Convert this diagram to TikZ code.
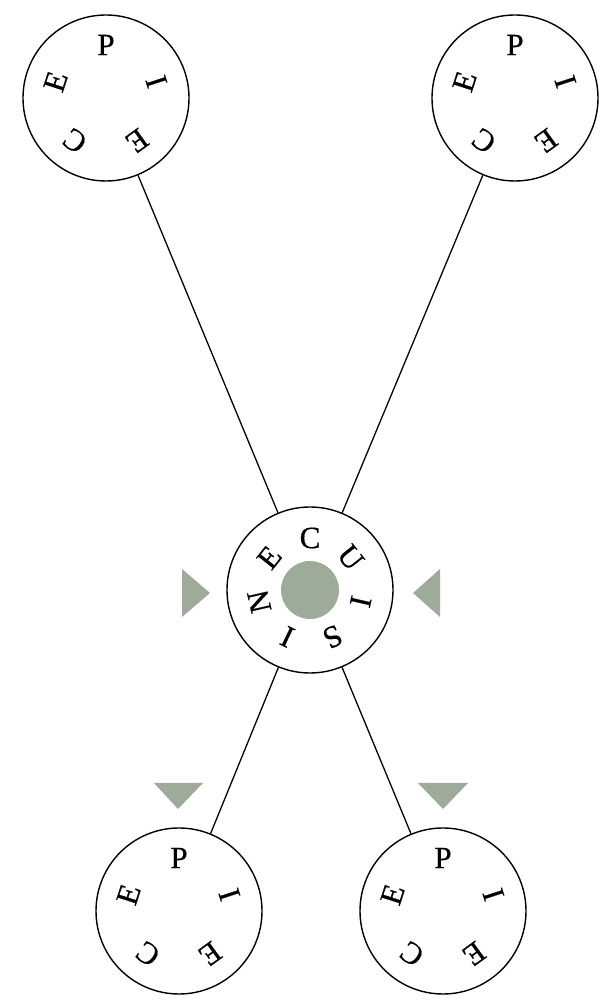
\documentclass[tikz,border=0pt]{standalone}
\usepackage{fontspec}
\setmainfont{Liberation Serif}
\newfontfamily\piecefont{Liberation Serif}[FakeBold=0.6]
\usepackage{xcolor}
\usetikzlibrary{calc}
\definecolor{mygreen}{RGB}{158,170,154}

\begin{document}
\begin{tikzpicture}[x=1pt,y=1pt]
\tikzset{
  ring/.style={circle,draw,line width=1.4pt,minimum size=166pt,inner sep=0pt},
  letter/.style={font=\piecefont\fontsize{31}{31}\selectfont,inner sep=0pt},
  link/.style={line width=1.3pt},
}
\useasboundingbox (0,0) rectangle (598,999);

\node[ring] (pieceTL) at (106,901) {};
\node[ring] (pieceTR) at (515,901) {};
\node[ring] (pieceBL) at (179,88) {};
\node[ring] (pieceBR) at (443,88) {};
\node[ring] (cuisine) at (310,409) {};
\fill[mygreen] (cuisine) circle (29);

\foreach \n in {pieceTL,pieceTR,pieceBL,pieceBR}{
  \foreach \l [count=\i from 0] in {P,I,E,C,E}{
    \pgfmathsetmacro\a{90-72*\i}
    \node[letter,rotate=\a-90] at ($(\n)+(\a:53)$) {\l};
  }
}
\foreach \l [count=\i from 0] in {C,U,I,S,I,N,E}{
  \pgfmathsetmacro\a{90-360/7*\i}
  \node[letter,rotate=\a-90] at ($(cuisine)+(\a:52)$) {\l};
}

\draw[link] (pieceTL) -- (cuisine);
\draw[link] (pieceTR) -- (cuisine);
\draw[link] (cuisine) -- (pieceBL);
\draw[link] (cuisine) -- (pieceBR);

% markers
\fill[mygreen] (210,406) -- (182,430) -- (182,382) -- cycle;
\fill[mygreen] (413,406) -- (440,430) -- (440,382) -- cycle;
\fill[mygreen] (178,190) -- (154,216) -- (203,216) -- cycle;
\fill[mygreen] (443,190) -- (418,216) -- (468,216) -- cycle;
\end{tikzpicture}
\end{document}
